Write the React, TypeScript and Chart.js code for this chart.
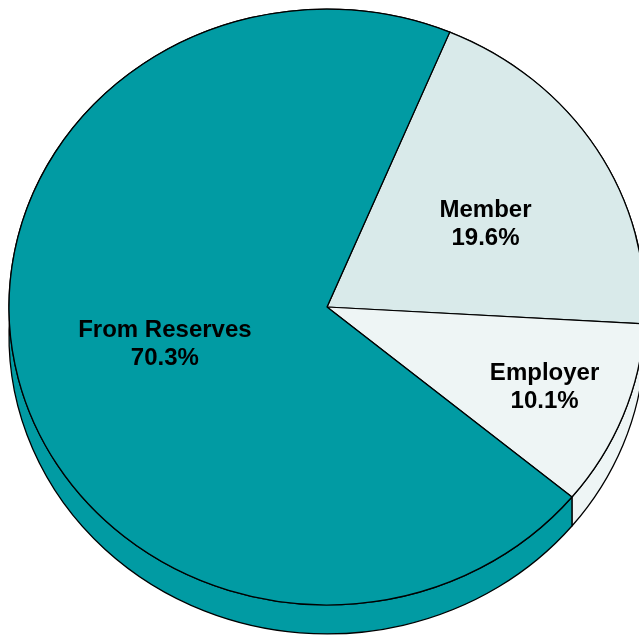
import React, { useEffect, useRef } from "react";
import { Chart, registerables } from "chart.js";

Chart.register(...registerables);

const categories = ["Member", "Employer", "From Reserves"];
const values = [19.6, 10.1, 70.3];
const percentLabels = ["19.6%", "10.1%", "70.3%"];
const colors = ["#d9eaea", "#eef5f5", "#019ba3"];

const TILT = 0.937;
const DEPTH = 29;
const LABEL_RADIUS = [0.57, 0.735, 0.525];
const LABEL_SHIFT_DEG = [3, 0, 0];

const pie3d = {
  id: "pie3d",
  beforeDatasetsDraw(chart: any) {
    const meta = chart.getDatasetMeta(0);
    const ctx = chart.ctx;
    const first = meta.data[0];
    const cx = first.x;
    const cy = first.y;
    ctx.save();
    ctx.translate(cx, cy);
    ctx.scale(1, TILT);
    ctx.translate(-cx, -cy);
    const d = DEPTH / TILT;
    meta.data.forEach((arc: any, i: number) => {
      const p = arc.getProps(["startAngle", "endAngle", "outerRadius"], true);
      const r = p.outerRadius;
      ctx.beginPath();
      ctx.arc(cx, cy, r, p.startAngle, p.endAngle);
      ctx.lineTo(cx + r * Math.cos(p.endAngle), cy + d + r * Math.sin(p.endAngle));
      ctx.arc(cx, cy + d, r, p.endAngle, p.startAngle, true);
      ctx.closePath();
      ctx.fillStyle = colors[i];
      ctx.fill();
      ctx.lineWidth = 1.3;
      ctx.strokeStyle = "#000";
      ctx.lineJoin = "round";
      ctx.stroke();
    });
  },
  afterDatasetsDraw(chart: any) {
    chart.ctx.restore();
  },
  afterDraw(chart: any) {
    const meta = chart.getDatasetMeta(0);
    const ctx = chart.ctx;
    ctx.save();
    ctx.font = "bold 24px 'Liberation Sans', Arial, sans-serif";
    ctx.fillStyle = "#000";
    ctx.textAlign = "center";
    ctx.textBaseline = "middle";
    meta.data.forEach((arc: any, i: number) => {
      const p = arc.getProps(["x", "y", "startAngle", "endAngle", "outerRadius"], true);
      const mid = (p.startAngle + p.endAngle) / 2 + (LABEL_SHIFT_DEG[i] * Math.PI) / 180;
      const rr = LABEL_RADIUS[i] * p.outerRadius;
      const x = p.x + rr * Math.cos(mid);
      const y = p.y + TILT * rr * Math.sin(mid);
      ctx.fillText(categories[i], x, y - 14);
      ctx.fillText(percentLabels[i], x, y + 14);
    });
    ctx.restore();
  },
};

export default function App() {
  const ref = useRef<HTMLCanvasElement | null>(null);
  useEffect(() => {
    if (!ref.current) return;
    const chart = new Chart(ref.current, {
      type: "pie",
      data: {
        labels: categories,
        datasets: [
          {
            data: values,
            backgroundColor: colors,
            borderColor: "#000",
            borderWidth: 1.3,
            clip: false as any,
          },
        ],
      },
      options: {
        responsive: false,
        animation: false,
        devicePixelRatio: 1,
        events: [],
        rotation: 22.7,
        radius: 318,
        layout: { padding: { left: 0, right: 6, top: 0, bottom: 26 } },
        plugins: {
          legend: { display: false },
          tooltip: { enabled: false },
        },
      } as any,
      plugins: [pie3d],
    });
    return () => chart.destroy();
  }, []);
  return (
    <div
      style={{
        position: "fixed",
        left: 0,
        top: 0,
        width: 639,
        height: 635,
        overflow: "hidden",
        background: "#fff",
      }}
    >
      <canvas
        ref={ref}
        width={660}
        height={640}
        style={{ position: "absolute", left: 0, top: 0, width: 660, height: 640 }}
      />
    </div>
  );
}
